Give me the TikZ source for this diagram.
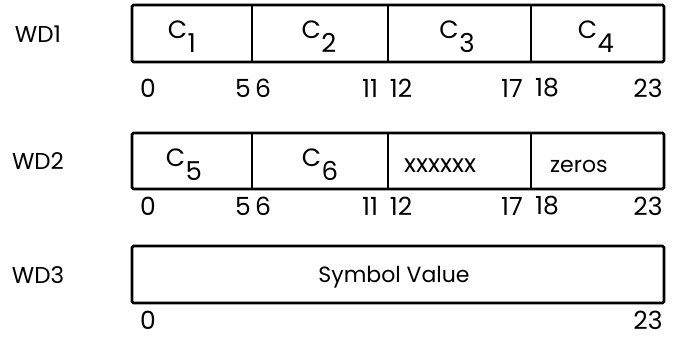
\documentclass[tikz,border=0pt]{standalone}
\usepackage{fontspec}
\setmainfont{Poppins}
\newcommand\Csub[1]{{\fontsize{25}{25}\selectfont C}\kern0.5pt\raisebox{-14pt}{\fontsize{26}{26}\selectfont #1}}
\begin{document}
\begin{tikzpicture}[x=1pt,y=-1pt,
  frame/.style={line width=2.8pt,rounded corners=1.5pt},
  divider/.style={line width=1.2pt},
  wdlabel/.style={anchor=center,inner sep=0pt,font=\fontsize{23}{23}\selectfont},
  bitnum/.style={anchor=center,inner sep=0pt,font=\fontsize{25}{25}\selectfont},
  field/.style={anchor=base,inner sep=0pt},
  fieldtext/.style={anchor=base west,inner sep=0pt}]
\useasboundingbox (0,0) rectangle (674,339);
% WD1
\node[wdlabel] (wd1) at (38,34) {WD1};
\draw[divider] (252,5) -- (252,62) (388,5) -- (388,62) (531,5) -- (531,62);
\draw[frame] (132,5) rectangle (664,62);
\node[field] (c1) at (182,39) {\Csub{1}};
\node[field] (c2) at (319,39) {\Csub{2}};
\node[field] (c3) at (457,39) {\Csub{3}};
\node[field] (c4) at (596,39) {\Csub{4}};
\node[bitnum] (a0) at (148,88) {0};
\node[bitnum] (a5) at (243,88) {5};
\node[bitnum] (a6) at (263,88) {6};
\node[bitnum] (a11) at (370,88) {11};
\node[bitnum] (a12) at (401,88) {12};
\node[bitnum] (a17) at (512,88) {17};
\node[bitnum] (a18) at (547,88) {18};
\node[bitnum] (a23) at (648,88) {23};
% WD2
\node[wdlabel] (wd2) at (38,161) {WD2};
\draw[divider] (252,133) -- (252,189) (388,133) -- (388,189) (531,133) -- (531,189);
\draw[frame] (132,133) rectangle (664,189);
\node[field] (c5) at (184,167) {\Csub{5}};
\node[field] (c6) at (320,167) {\Csub{6}};
\node[fieldtext,font=\fontsize{25}{25}\selectfont] (xx) at (404,172) {xxxxxx};
\node[fieldtext,font=\fontsize{22}{22}\selectfont] (zeros) at (550,172) {zeros};
\node[bitnum] (b0) at (148,206) {0};
\node[bitnum] (b5) at (243,206) {5};
\node[bitnum] (b6) at (263,206) {6};
\node[bitnum] (b11) at (370,206) {11};
\node[bitnum] (b12) at (401,206) {12};
\node[bitnum] (b17) at (512,206) {17};
\node[bitnum] (b18) at (547,206) {18};
\node[bitnum] (b23) at (648,206) {23};
% WD3
\node[wdlabel] (wd3) at (38,275) {WD3};
\draw[frame] (132,246) rectangle (664,303);
\node[wdlabel,font=\fontsize{22}{22}\selectfont] (sv) at (394,277) {Symbol Value};
\node[bitnum] (c0) at (148,320) {0};
\node[bitnum] (c23) at (648,320) {23};
\end{tikzpicture}
\end{document}
